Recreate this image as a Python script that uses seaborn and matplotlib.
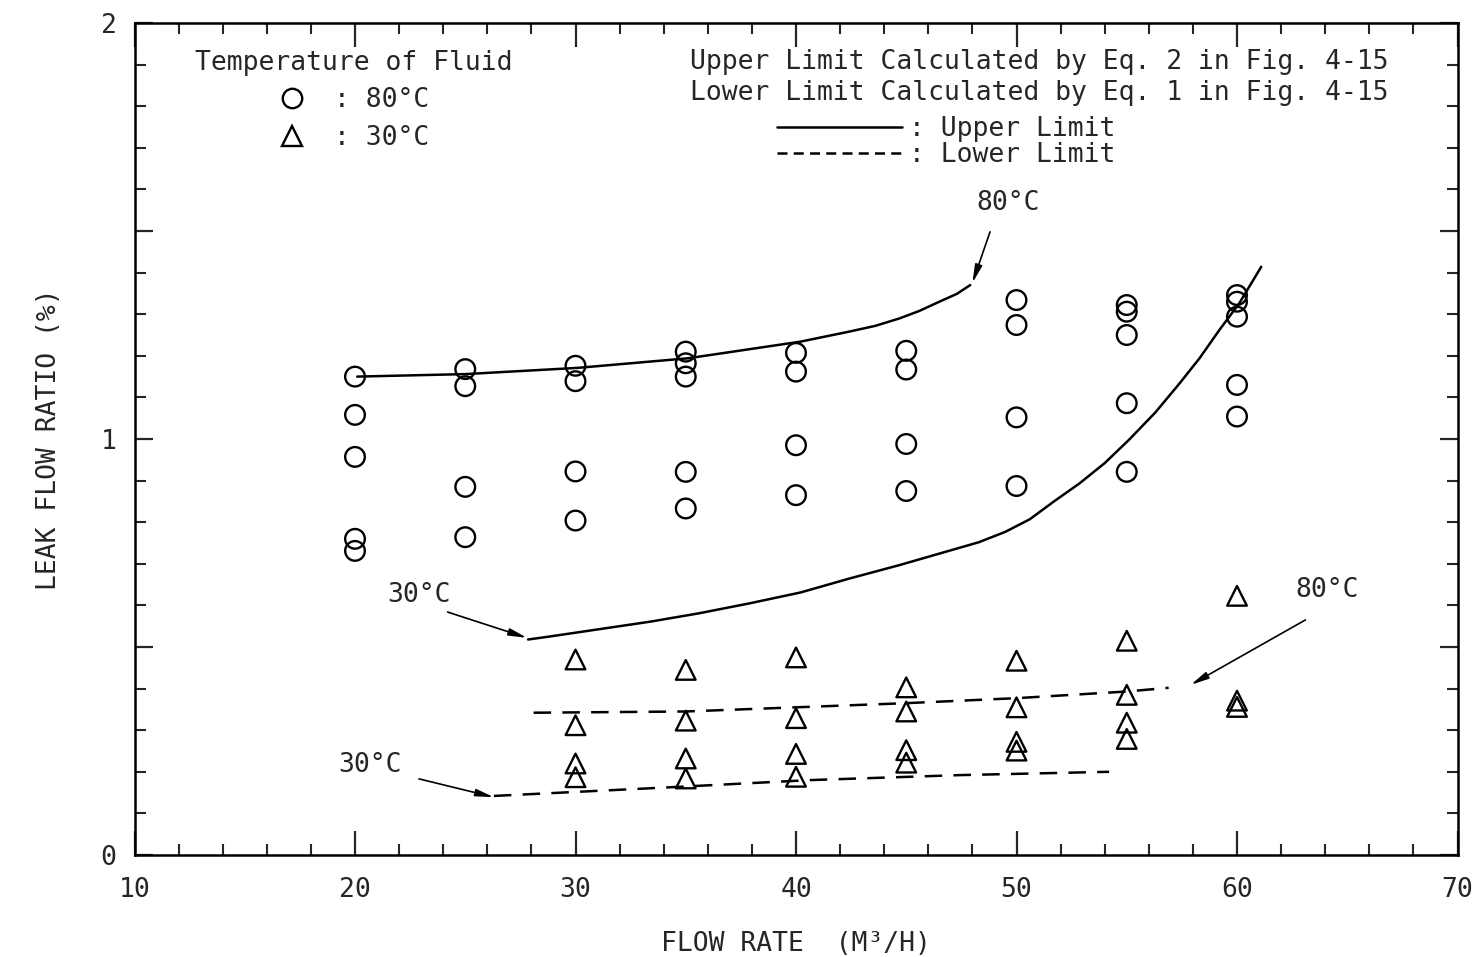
import numpy as np
import pandas as pd
import seaborn as sns
import matplotlib
matplotlib.use("Agg")
import matplotlib.pyplot as plt
from matplotlib.lines import Line2D
from matplotlib.ticker import MultipleLocator, FuncFormatter

# ---------------- data ----------------
# 80 degC measurements (circles)
c80_x = [20, 20, 20, 20, 20,
         25, 25, 25, 25,
         30, 30, 30, 30,
         35, 35, 35, 35, 35,
         40, 40, 40, 40,
         45, 45, 45, 45,
         50, 50, 50, 50,
         55, 55, 55, 55, 55,
         60, 60, 60, 60, 60]
c80_y = [1.150, 1.058, 0.957, 0.760, 0.731,
         1.168, 1.127, 0.885, 0.764,
         1.176, 1.139, 0.922, 0.804,
         1.210, 1.182, 1.150, 0.921, 0.833,
         1.207, 1.162, 0.985, 0.865,
         1.212, 1.167, 0.988, 0.875,
         1.334, 1.274, 1.052, 0.887,
         1.322, 1.306, 1.250, 1.086, 0.921,
         1.346, 1.330, 1.294, 1.130, 1.054]

# 30 degC measurements (triangles)
t30_x = [30, 30, 30, 30,
         35, 35, 35, 35,
         40, 40, 40, 40,
         45, 45, 45, 45,
         50, 50, 50, 50,
         55, 55, 55, 55,
         60, 60, 60]
t30_y = [0.470, 0.312, 0.220, 0.187,
         0.445, 0.323, 0.232, 0.184,
         0.475, 0.329, 0.243, 0.188,
         0.403, 0.345, 0.252, 0.222,
         0.467, 0.355, 0.272, 0.251,
         0.515, 0.385, 0.318, 0.279,
         0.623, 0.371, 0.356]

# Upper limit curves (solid)
up80_x = [20.1, 25.0, 30.1, 35.1, 40.2, 41.3, 42.4, 43.6, 44.7, 45.6, 46.5, 47.3, 47.9]
up80_y = [1.150, 1.156, 1.171, 1.194, 1.234, 1.246, 1.258, 1.272, 1.290, 1.308, 1.330, 1.349, 1.370]
up30_x = [27.85, 28.8, 31.1, 33.4, 35.6, 37.9, 40.2, 42.45, 44.7, 48.3, 49.5, 50.6,
          51.7, 52.85, 54.0, 55.1, 56.3, 57.4, 58.3, 59.2, 60.1, 61.1]
up30_y = [0.518, 0.525, 0.543, 0.561, 0.581, 0.605, 0.631, 0.665, 0.697, 0.752, 0.777, 0.807,
          0.850, 0.893, 0.942, 0.998, 1.064, 1.134, 1.194, 1.262, 1.326, 1.414]

# Lower limit curves (dashed)
lo80_x = [28.1, 35.0, 40.0, 45.0, 50.0, 55.0, 56.9]
lo80_y = [0.342, 0.345, 0.355, 0.365, 0.377, 0.393, 0.402]
lo30_x = [26.3, 34.0, 40.6, 47.4, 54.2]
lo30_y = [0.142, 0.162, 0.180, 0.192, 0.200]

x_ticks = [10, 20, 30, 40, 50, 60, 70]
y_ticks = [0, 1, 2]

# ---------------- style ----------------
sns.set_theme(style="ticks")
FONT = ["DejaVu Sans Mono", "DejaVu Sans"]
plt.rcParams["font.family"] = FONT
plt.rcParams["axes.linewidth"] = 1.8
FS = 19

fig = plt.figure(figsize=(14.8, 9.57), dpi=100)
ax = fig.add_axes([134.5 / 1480, 102 / 957, 1323 / 1480, 832 / 957])

LW = 1.8
sns.lineplot(x=up80_x, y=up80_y, ax=ax, color="black", lw=LW, sort=False, estimator=None)
sns.lineplot(x=up30_x, y=up30_y, ax=ax, color="black", lw=LW, sort=False, estimator=None)
sns.lineplot(x=lo80_x, y=lo80_y, ax=ax, color="black", lw=LW, sort=False, estimator=None,
             linestyle=(0, (7, 4.5)))
sns.lineplot(x=lo30_x, y=lo30_y, ax=ax, color="black", lw=LW, sort=False, estimator=None,
             linestyle=(0, (7, 4.5)))

sns.scatterplot(x=c80_x, y=c80_y, ax=ax, marker="o", s=200,
                facecolor="none", edgecolor="black", linewidth=1.7, zorder=3)
sns.scatterplot(x=t30_x, y=t30_y, ax=ax, marker="^", s=200,
                facecolor="none", edgecolor="black", linewidth=1.7, zorder=3)

ax.set_xlim(10, 70)
ax.set_ylim(0, 2)
ax.xaxis.set_major_locator(MultipleLocator(10))
ax.xaxis.set_minor_locator(MultipleLocator(2))
ax.yaxis.set_major_locator(MultipleLocator(0.5))
ax.yaxis.set_minor_locator(MultipleLocator(0.1))
ax.xaxis.set_major_formatter(FuncFormatter(lambda v, p: f"{int(round(v))}" if int(round(v)) in x_ticks else ""))
ax.yaxis.set_major_formatter(FuncFormatter(lambda v, p: f"{int(round(v))}" if abs(v - round(v)) < 1e-6 and int(round(v)) in y_ticks else ""))
ax.tick_params(axis="x", which="major", direction="in", length=17, width=1.6, top=True,
               labelsize=FS, pad=16)
ax.tick_params(axis="x", which="minor", direction="in", length=8, width=1.5, top=True)
ax.tick_params(axis="y", which="major", direction="in", length=13, width=1.6, right=True,
               labelsize=FS, pad=13)
ax.tick_params(axis="y", which="minor", direction="in", length=8, width=1.5, right=True)
for sp in ax.spines.values():
    sp.set_visible(True)
    sp.set_color("black")
    sp.set_linewidth(1.8)

ax.set_xlabel("FLOW RATE  (M\u00b3/H)", fontsize=FS, labelpad=20)
ax.set_ylabel("LEAK FLOW RATIO (%)", fontsize=FS, labelpad=28)

# ---------------- legends ----------------
h_c = Line2D([], [], marker="o", ls="", mfc="none", mec="black", ms=14, mew=1.7)
h_t = Line2D([], [], marker="^", ls="", mfc="none", mec="black", ms=14, mew=1.7)
leg1 = ax.legend([h_c, h_t], [": 80\u00b0C", ": 30\u00b0C"], title="Temperature of Fluid",
                 loc="upper left", bbox_to_anchor=(0.0457, 0.968), frameon=False,
                 fontsize=FS, title_fontsize=FS, handlelength=1.0, handletextpad=1.1,
                 labelspacing=0.45, borderpad=0, borderaxespad=0)
ax.add_artist(leg1)

h_s = Line2D([], [], color="black", lw=LW)
h_d = Line2D([], [], color="black", lw=LW, ls=(0, (4, 2.5)))
ax.legend([h_s, h_d], [": Upper Limit", ": Lower Limit"], loc="upper left",
          bbox_to_anchor=(0.486, 0.888), frameon=False, fontsize=FS,
          handlelength=4.7, handletextpad=0.3, labelspacing=0.0, borderpad=0,
          borderaxespad=0)

ax.text(0.42, 0.953, "Upper Limit Calculated by Eq. 2 in Fig. 4-15", transform=ax.transAxes,
        fontsize=FS, va="center", ha="left")
ax.text(0.42, 0.9155, "Lower Limit Calculated by Eq. 1 in Fig. 4-15", transform=ax.transAxes,
        fontsize=FS, va="center", ha="left")

# ---------------- annotations ----------------
arrow = dict(arrowstyle="-|>,head_length=0.9,head_width=0.18", color="black", lw=1.2,
             shrinkA=0, shrinkB=0)
def note(text, xy, xytext, tail):
    ax.text(xytext[0], xytext[1], text, fontsize=FS, ha="center", va="center")
    ax.annotate("", xy=xy, xytext=tail, arrowprops=arrow)

note("80\u00b0C", (48.0, 1.375), (49.6, 1.567), (48.8, 1.498))
note("30\u00b0C", (27.8, 0.522), (22.9, 0.625), (24.2, 0.584))
note("30\u00b0C", (26.3, 0.139), (20.7, 0.216), (22.9, 0.183))
note("80\u00b0C", (57.9, 0.409), (64.1, 0.637), (63.1, 0.565))

fig.savefig("out.png", dpi=100)
